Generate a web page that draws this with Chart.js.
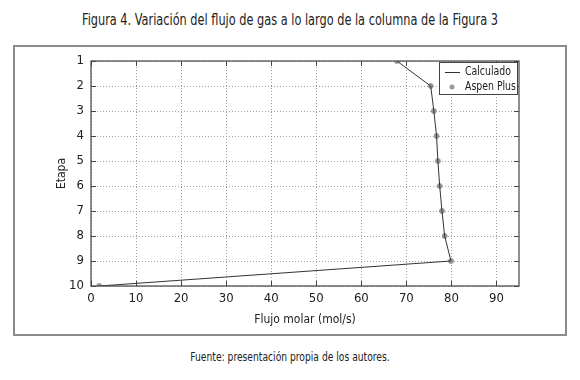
<!DOCTYPE html>
<html>
<head>
<meta charset="utf-8">
<script src="https://cdn.jsdelivr.net/npm/chart.js@4.4.0/dist/chart.umd.min.js"></script>
<style>
    body { margin: 0; background: #fff; }
    #wrap { position: relative; width: 580px; height: 380px; overflow: hidden;
            font-family: "DejaVu Sans Condensed", sans-serif; color: #222; }
    #title { position: absolute; left: 0; top: 11px; width: 580px; text-align: center; font-size: 15px;
             transform: scaleX(0.84); }
    #frame { position: absolute; left: 13px; top: 45px; width: 550px; height: 287px; border: 2px solid #8c8c8c; }
    #source { position: absolute; left: 0; top: 350px; width: 580px; text-align: center; font-size: 12px;
              transform: scaleX(0.85); }
    #plot { position: absolute; left: 0; top: 0; }
</style>
</head>
<body>
<div id="wrap">
    <div id="frame"></div>
    <div id="title">Figura 4. Variación del flujo de gas a lo largo de la columna de la Figura 3</div>
    <div id="source">Fuente: presentación propia de los autores.</div>
    <canvas id="plot" width="580" height="380"></canvas>
</div>
<script>
// Stages (y axis) and molar gas flow (x axis)
const etapas = [1, 2, 3, 4, 5, 6, 7, 8, 9, 10];
const calculado = [67.9, 75.4, 76.1, 76.7, 77.0, 77.4, 77.9, 78.5, 79.9, 1.8];
const aspenPlus = [67.9, 75.4, 76.1, 76.7, 77.0, 77.4, 77.9, 78.5, 79.9, 1.8];
const xTicks = [0, 10, 20, 30, 40, 50, 60, 70, 80, 90];

const FONT = '"DejaVu Sans Condensed", sans-serif';
const LINE_COLOR = '#333';
const DOT_COLOR = '#999';

// Frame around the plot, inward tick marks and the legend box
const framePlugin = {
    id: 'framePlugin',
    afterDraw(chart) {
        const { ctx, chartArea: a, scales } = chart;
        ctx.save();
        ctx.strokeStyle = '#444';
        ctx.lineWidth = 1.2;
        ctx.strokeRect(a.left, a.top, a.right - a.left, a.bottom - a.top);

        ctx.lineWidth = 1;
        ctx.beginPath();
        scales.x.ticks.forEach(t => {
            const px = Math.round(scales.x.getPixelForValue(t.value)) + 0.5;
            ctx.moveTo(px, a.bottom); ctx.lineTo(px, a.bottom - 5);
            ctx.moveTo(px, a.top); ctx.lineTo(px, a.top + 5);
        });
        scales.y.ticks.forEach(t => {
            const py = Math.round(scales.y.getPixelForValue(t.value)) + 0.5;
            ctx.moveTo(a.left, py); ctx.lineTo(a.left + 5, py);
            ctx.moveTo(a.right, py); ctx.lineTo(a.right - 5, py);
        });
        ctx.stroke();

        // legend
        const bx = a.right - 80, by = a.top + 1, bw = 78, bh = 32;
        ctx.fillStyle = '#fff';
        ctx.fillRect(bx, by, bw, bh);
        ctx.strokeStyle = '#444';
        ctx.strokeRect(bx + 0.5, by + 0.5, bw, bh);

        ctx.strokeStyle = LINE_COLOR;
        ctx.beginPath();
        ctx.moveTo(bx + 6, by + 10.5); ctx.lineTo(bx + 21, by + 10.5);
        ctx.stroke();
        ctx.fillStyle = DOT_COLOR;
        ctx.beginPath();
        ctx.arc(bx + 13, by + 25, 2.5, 0, Math.PI * 2);
        ctx.fill();

        ctx.fillStyle = '#222';
        ctx.font = '13px ' + FONT;
        ctx.textBaseline = 'middle';
        ctx.textAlign = 'left';
        [['Calculado', 10], ['Aspen Plus', 25]].forEach(([txt, dy]) => {
            ctx.save();
            ctx.translate(bx + 26, by + dy);
            ctx.scale(0.8, 1);
            ctx.fillText(txt, 0, 0);
            ctx.restore();
        });
        ctx.restore();
    }
};

new Chart(document.getElementById('plot'), {
    type: 'scatter',
    data: {
        datasets: [
            {
                label: 'Calculado',
                data: etapas.map((e, i) => ({ x: calculado[i], y: e })),
                showLine: true,
                borderColor: LINE_COLOR,
                borderWidth: 1,
                pointRadius: 0,
                fill: false
            },
            {
                label: 'Aspen Plus',
                data: etapas.map((e, i) => ({ x: aspenPlus[i], y: e })),
                showLine: false,
                backgroundColor: DOT_COLOR,
                borderColor: DOT_COLOR,
                pointRadius: 2.5,
                pointHoverRadius: 2.5
            }
        ]
    },
    options: {
        responsive: false,
        animation: false,
        layout: { padding: { left: 50, top: 61, right: 61, bottom: 44 } },
        plugins: {
            legend: { display: false },
            tooltip: { enabled: false }
        },
        scales: {
            x: {
                type: 'linear',
                min: 0,
                max: 95,
                afterFit: s => { s.height = 50; },
                afterBuildTicks: s => { s.ticks = xTicks.map(v => ({ value: v })); },
                ticks: { color: '#222', padding: 5, font: { family: FONT, size: 13 } },
                grid: { color: '#a0a0a0', drawTicks: false },
                border: { display: false, dash: [1, 2] },
                title: {
                    display: true,
                    text: 'Flujo molar (mol/s)',
                    color: '#222',
                    font: { family: FONT, size: 12 },
                    padding: { top: 0, bottom: 9 }
                }
            },
            y: {
                type: 'linear',
                reverse: true,
                min: 1,
                max: 10,
                afterFit: s => { s.width = 41; },
                afterBuildTicks: s => { s.ticks = etapas.map(v => ({ value: v })); },
                ticks: { color: '#222', padding: 7, font: { family: FONT, size: 13 } },
                grid: { color: '#a0a0a0', drawTicks: false },
                border: { display: false, dash: [1, 2] },
                title: {
                    display: true,
                    text: 'Etapa',
                    color: '#222',
                    font: { family: FONT, size: 12 },
                    padding: { top: 5, bottom: 0 }
                }
            }
        }
    },
    plugins: [framePlugin]
});
</script>
</body>
</html>
